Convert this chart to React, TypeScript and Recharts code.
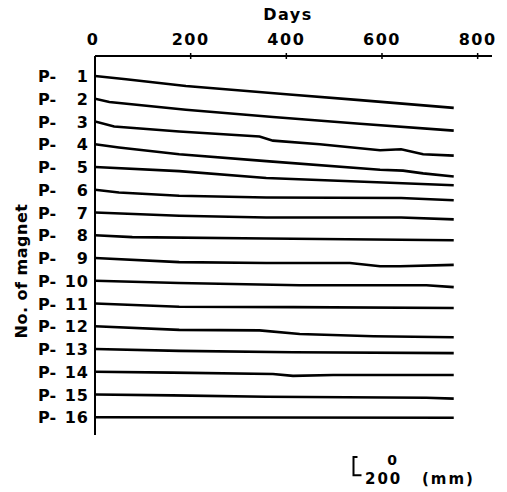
import { LineChart, Line, XAxis, YAxis } from 'recharts'

// settlement of each magnet, [day, mm]
const P1 = [[0, 0], [65, 35], [190, 110], [400, 200], [554, 265], [750, 350]]
const P2 = [[0, 0], [30, 35], [190, 120], [372, 200], [554, 275], [750, 350]]
const P3 = [[0, 0], [40, 55], [176, 110], [344, 165], [372, 210], [470, 250], [596, 315], [640, 305], [686, 360], [750, 375]]
const P4 = [[0, 0], [50, 35], [176, 110], [358, 185], [596, 280], [644, 290], [686, 320], [750, 355]]
const P5 = [[0, 0], [176, 45], [358, 120], [603, 170], [750, 200]]
const P6 = [[0, 0], [50, 30], [176, 65], [358, 85], [640, 90], [750, 115]]
const P7 = [[0, 0], [176, 35], [358, 55], [640, 55], [750, 75]]
const P8 = [[0, 0], [78, 20], [358, 35], [750, 55]]
const P9 = [[0, 0], [176, 45], [358, 55], [533, 55], [596, 90], [638, 90], [750, 75]]
const P10 = [[0, 0], [176, 25], [428, 50], [693, 50], [750, 70]]
const P11 = [[0, 0], [176, 35], [414, 40], [750, 50]]
const P12 = [[0, 0], [176, 40], [344, 45], [428, 85], [582, 110], [750, 120]]
const P13 = [[0, 0], [176, 20], [414, 35], [750, 45]]
const P14 = [[0, 0], [162, 10], [372, 25], [414, 45], [498, 35], [750, 35]]
const P15 = [[0, 0], [162, 10], [358, 25], [693, 35], [750, 45]]
const P16 = [[0, 0], [750, 5]]

const SETTLEMENTS = [P1, P2, P3, P4, P5, P6, P7, P8, P9, P10, P11, P12, P13, P14, P15, P16]
const MAGNETS = ['1', '2', '3', '4', '5', '6', '7', '8', '9', '10', '11', '12', '13', '14', '15', '16']
const DAY_TICKS = [0, 200, 400, 600, 800]

const SPACING = 250 // mm between magnet baselines on the plot
const Y_DOMAIN = [-220, 3945]
const X_DOMAIN = [0, 830]
const SCALE_MM = 200

const W = 507
const H = 492
const MARGIN = { top: 0, right: 15, bottom: 57, left: 0 }
const Y_AXIS_W = 95
const X_AXIS_H = 56
const FONT = '"DejaVu Sans", sans-serif'

const series = SETTLEMENTS.map((pts, i) =>
  pts.map(([day, mm]) => ({ day, y: i * SPACING + mm }))
)
const yTicks = MAGNETS.map((_, i) => i * SPACING)

const DayTick = (props: any) => {
  const { x, y, payload } = props
  return (
    <g>
      {payload.value !== 0 && <line x1={x} x2={x} y1={y - 3} y2={y + 3} stroke="#000" strokeWidth={1.5} />}
      <text x={x - (payload.value === 0 ? 2 : 0)} y={y - 11} textAnchor="middle" fontFamily={FONT} fontWeight="bold" fontSize={16} letterSpacing={1.5} fill="#000">
        {payload.value}
      </text>
    </g>
  )
}

const MagnetTick = (props: any) => {
  const { x, y, payload } = props
  const idx = Math.round(payload.value / SPACING)
  return (
    <g fontFamily={FONT} fontWeight="bold" fontSize={16} fill="#000">
      <text x={x - 57} y={y + 6} textAnchor="start">P-</text>
      <text x={x - 6} y={y + 6} textAnchor="end" letterSpacing={1}>{MAGNETS[idx]}</text>
    </g>
  )
}

export default function App() {
  const plotH = H - MARGIN.top - MARGIN.bottom - X_AXIS_H
  const pxPerMm = plotH / (Y_DOMAIN[1] - Y_DOMAIN[0])
  const barLen = SCALE_MM * pxPerMm
  const bx = 353.5
  const by = 457

  return (
    <div>
      <style>{'body{margin:0}'}</style>
      <LineChart width={W} height={H} margin={MARGIN}>
        <XAxis
          xAxisId={0}
          type="number"
          dataKey="day"
          orientation="top"
          domain={X_DOMAIN}
          ticks={DAY_TICKS}
          height={X_AXIS_H}
          tickSize={0}
          tickMargin={0}
          tickLine={false}
          axisLine={{ stroke: '#000', strokeWidth: 2 }}
          tick={<DayTick />}
          interval={0}
          allowDataOverflow
        />
        <YAxis
          yAxisId={0}
          type="number"
          domain={Y_DOMAIN}
          reversed
          ticks={yTicks}
          width={Y_AXIS_W}
          tickSize={0}
          tickMargin={0}
          tickLine={false}
          axisLine={{ stroke: '#000', strokeWidth: 2 }}
          tick={<MagnetTick />}
          interval={0}
          allowDataOverflow
        />
        {series.map((data, i) => (
          <Line
            key={MAGNETS[i]}
            data={data}
            dataKey="y"
            type="linear"
            stroke="#000"
            strokeWidth={2.6}
            dot={false}
            activeDot={false}
            isAnimationActive={false}
          />
        ))}
        <g fontFamily={FONT} fontWeight="bold" fill="#000">
          <text x={288} y={20} textAnchor="middle" fontSize={16} letterSpacing={1.5}>Days</text>
          <text x={27} y={271} textAnchor="middle" fontSize={16} letterSpacing={0.5} transform="rotate(-90 27 271)">
            No. of magnet
          </text>
          <path
            d={`M${bx + 4},${by} H${bx} V${by + barLen} H${bx + 8}`}
            fill="none"
            stroke="#000"
            strokeWidth={2}
          />
          <text x={392} y={465} textAnchor="middle" fontSize={14}>0</text>
          <text x={365} y={484} textAnchor="start" fontSize={15} letterSpacing={2}>200</text>
          <text x={422} y={484} textAnchor="start" fontSize={15} letterSpacing={2}>(mm)</text>
        </g>
      </LineChart>
    </div>
  )
}
